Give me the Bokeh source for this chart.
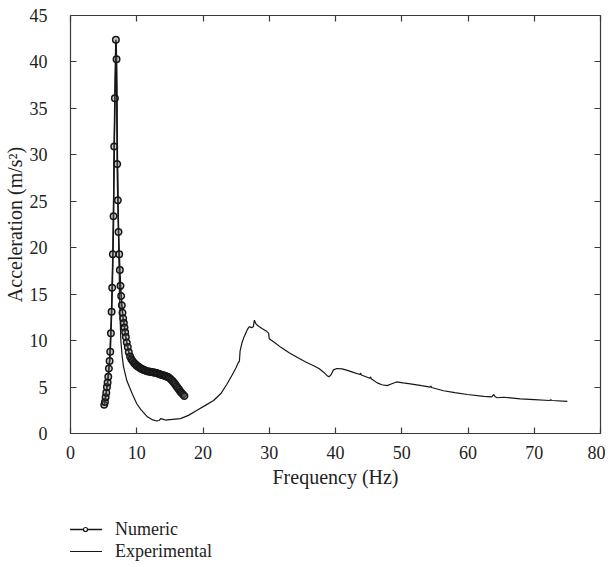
from bokeh.plotting import figure
from bokeh.layouts import column
from bokeh.models import (Range1d, LinearAxis, SingleIntervalTicker, Legend, LegendItem,
                          CustomJSTickFormatter)
from bokeh.embed import file_html
from bokeh.resources import INLINE

# ---- data ----
num_f = [5.10, 5.20, 5.30, 5.40, 5.50, 5.60, 5.70, 5.80, 5.90, 6.00, 6.10, 6.20, 6.30, 6.40, 6.50, 6.60, 6.70, 6.85,
         6.95, 7.05, 7.15, 7.25, 7.35, 7.45, 7.55, 7.65, 7.75, 7.85, 7.95, 8.05, 8.15, 8.25, 8.35, 8.5, 8.65, 8.8,
         9.0, 9.2, 9.4, 9.6, 9.8, 10.0, 10.2, 10.4, 10.6, 10.8, 11.0, 11.2, 11.4, 11.6, 11.8, 12.0, 12.2, 12.4,
         12.6, 12.8, 13.0, 13.2, 13.4, 13.6, 13.8, 14.0, 14.2, 14.4, 14.6, 14.8, 15.0, 15.2, 15.4, 15.6, 15.8,
         16.0, 16.2, 16.4, 16.6, 16.8, 17.0, 17.2]
num_a = [3.1, 3.4, 3.9, 4.4, 5.0, 5.5, 6.1, 7.0, 7.8, 8.8, 10.8, 13.1, 15.7, 19.3, 23.4, 30.9, 36.1, 42.4,
         40.3, 29.0, 25.1, 21.7, 19.3, 17.6, 15.9, 14.8, 13.8, 13.0, 12.4, 11.9, 11.4, 10.9, 10.4, 9.8, 9.3, 8.75,
         8.3, 8.0, 7.8, 7.6, 7.45, 7.3, 7.2, 7.1, 7.0, 6.95, 6.85, 6.8, 6.75, 6.7, 6.68, 6.65, 6.62, 6.6,
         6.58, 6.55, 6.5, 6.45, 6.4, 6.35, 6.3, 6.27, 6.22, 6.15, 6.1, 6.05, 5.95, 5.8, 5.65, 5.5, 5.3,
         5.1, 4.9, 4.7, 4.5, 4.35, 4.2, 4.05]

exp_f = [5.1, 5.5, 5.9, 6.2, 6.4, 6.6, 6.75, 6.88, 7.0, 7.1, 7.2, 7.3, 7.4, 7.5, 7.6, 7.8,
         8.0, 8.5, 9.3, 10.0, 10.6, 11.6, 12.3, 13.0, 13.4, 13.6, 13.9, 14.3, 15.0, 15.8, 16.6, 17.8,
         19.1, 20.3, 21.6, 22.7, 23.6, 24.4, 25.0, 25.3, 25.5, 25.6, 25.9, 26.2, 26.7, 27.0, 27.3, 27.6,
         27.75, 28.0, 28.3, 28.9, 29.6, 29.9, 30.0, 30.8, 31.7, 33.0, 34.2, 35.5, 36.7, 37.5, 38.2, 38.7,
         39.0, 39.3, 39.7, 40.2, 41.0, 41.8, 42.8, 43.7, 43.8, 43.9, 45.2, 45.3, 45.4, 46.3, 47.0, 47.8,
         48.5, 49.2, 50.2, 51.3, 53.0, 54.3, 54.4, 54.5, 56.3, 58.0, 59.9, 62.4, 63.6, 63.9, 64.1, 64.4,
         65.4, 67.9, 70.0, 72.3, 72.5, 72.7, 75.0]
exp_a = [3.1, 5.0, 7.7, 13.1, 19.3, 30.9, 38.0, 42.0, 37.0, 30.0, 24.0, 19.5, 15.0, 12.2, 10.0, 8.3,
         7.2, 5.7, 4.3, 3.2, 2.6, 1.8, 1.5, 1.35, 1.4, 1.6, 1.55, 1.45, 1.5, 1.55, 1.6, 1.95,
         2.5, 3.0, 3.55, 4.3, 5.3, 6.3, 7.1, 7.6, 7.8, 8.9, 9.8, 10.4, 11.2, 11.5, 11.4, 11.5,
         12.2, 11.8, 11.6, 11.3, 11.0, 10.8, 10.2, 9.8, 9.3, 8.7, 8.2, 7.7, 7.3, 7.0, 6.6, 6.25,
         6.1, 6.3, 6.85, 7.0, 6.95, 6.8, 6.55, 6.35, 6.5, 6.3, 5.95, 6.1, 5.9, 5.45, 5.25, 5.15,
         5.35, 5.55, 5.45, 5.35, 5.15, 5.0, 5.12, 4.95, 4.6, 4.4, 4.2, 4.0, 3.95, 4.2, 3.95, 3.85,
         3.9, 3.73, 3.65, 3.55, 3.62, 3.55, 3.45]

x_label = "Frequency (Hz)"
y_label = "Acceleration (m/s\u00b2)"
series_names = ["Numeric", "Experimental"]

FONT = "Liberation Serif"
INK = "#161616"
AXC = "#3a3a3a"
LINE_EXP = dict(line_color=INK, line_width=1.2)
LINE_NUM = dict(line_color=INK, line_width=1.6)
MARK_NUM = dict(marker="circle", line_color=INK, line_width=1.5, fill_color="#6a6a6a", fill_alpha=0.35)

p = figure(width=605, height=500,
           x_range=Range1d(0, 80), y_range=Range1d(0, 45),
           output_backend="svg", toolbar_location=None,
           min_border_left=70, min_border_top=15, min_border_right=5, min_border_bottom=67)
p.grid.visible = False
p.outline_line_color = None
p.background_fill_color = "white"
p.border_fill_color = "white"

p.line(exp_f, exp_a, **LINE_EXP)
p.line(num_f, num_a, **LINE_NUM)
p.scatter(num_f, num_a, size=6.5, **MARK_NUM)

def style_axis(ax, labels=True):
    ax.axis_line_color = AXC
    ax.axis_line_width = 1.2
    ax.major_tick_line_color = AXC
    ax.major_tick_line_width = 1.2
    ax.major_tick_in = 6
    ax.major_tick_out = 0
    ax.minor_tick_line_color = None
    if labels:
        ax.major_label_text_font = FONT
        ax.major_label_text_font_size = "18px"
        ax.major_label_text_color = "#222222"
        ax.axis_label_text_font = FONT
        ax.axis_label_text_font_size = "20px"
        ax.axis_label_text_font_style = "normal"
        ax.axis_label_text_color = "#222222"
    else:
        ax.formatter = CustomJSTickFormatter(code="return ''")
        ax.major_label_text_font_size = "1px"
        ax.major_label_standoff = 0

p.xaxis.ticker = SingleIntervalTicker(interval=10, num_minor_ticks=0)
p.yaxis.ticker = SingleIntervalTicker(interval=5, num_minor_ticks=0)
p.xaxis.axis_label = x_label
p.yaxis.axis_label = y_label
style_axis(p.xaxis[0])
style_axis(p.yaxis[0])
p.xaxis.major_label_standoff = 12
p.xaxis.axis_label_standoff = 4
p.yaxis.major_label_standoff = 23
p.yaxis.axis_label_standoff = 1

top_ax = LinearAxis(ticker=SingleIntervalTicker(interval=10, num_minor_ticks=0))
right_ax = LinearAxis(ticker=SingleIntervalTicker(interval=5, num_minor_ticks=0))
style_axis(top_ax, labels=False)
style_axis(right_ax, labels=False)
p.add_layout(top_ax, "above")
p.add_layout(right_ax, "right")

# legend strip below the plot: same series, drawn outside this strip's visible range
q = figure(width=605, height=67, output_backend="svg", toolbar_location=None,
           x_range=Range1d(0, 80), y_range=Range1d(1000, 1001),
           x_axis_location=None, y_axis_location=None, min_border=0)
q.grid.visible = False
q.outline_line_color = None
q.border_fill_color = "white"
q.background_fill_color = "white"
ql1 = q.line(num_f, num_a, line_color=INK, line_width=1.3)
qm1 = q.scatter(num_f, num_a, size=4.5, marker="circle", line_color=INK, line_width=1.2,
                fill_color="white")
ql2 = q.line(exp_f, exp_a, line_color=INK, line_width=1.2)

legend = Legend(items=[LegendItem(label=series_names[0], renderers=[ql1, qm1]),
                       LegendItem(label=series_names[1], renderers=[ql2])],
                location=(-2, 5), orientation="vertical",
                label_text_font=FONT, label_text_font_size="18px", label_text_color="#222222",
                glyph_width=34, glyph_height=10, label_height=22, label_standoff=13,
                spacing=0, padding=0, margin=0,
                background_fill_alpha=0, border_line_alpha=0)
q.add_layout(legend, "center")

layout = column(p, q, spacing=0)
open("out.html", "w").write(file_html(layout, INLINE))
